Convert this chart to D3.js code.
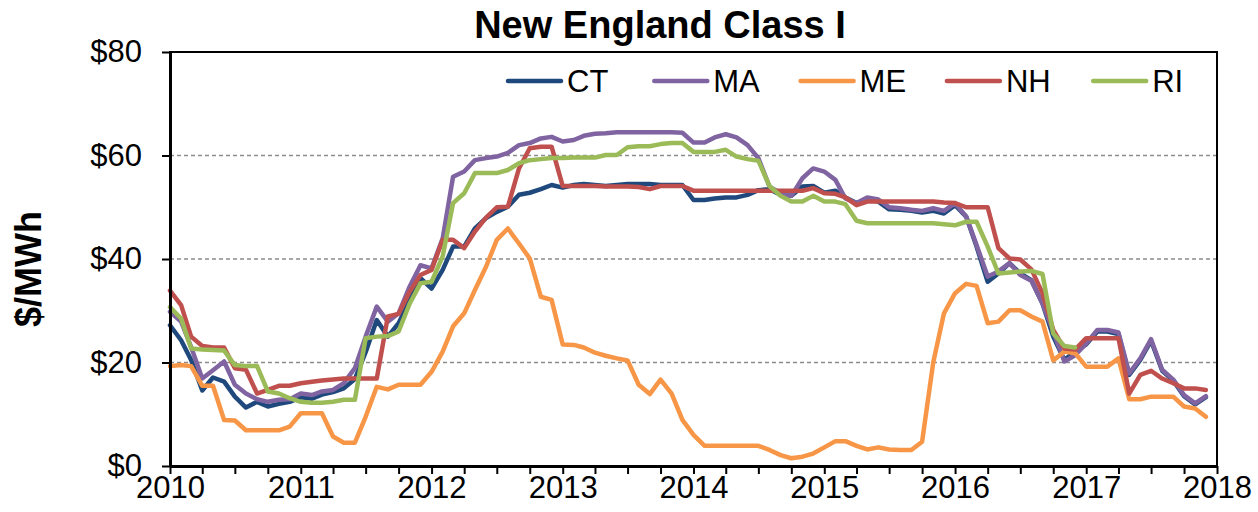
<!DOCTYPE html>
<html lang="en">
<head>
<meta charset="UTF-8">
<title>New England Class I</title>
<script src="https://d3js.org/d3.v7.min.js"></script>
<style>
    *{padding:0; margin:0; box-sizing:border-box;}
    body{background:#fff;}
    text{font-family:Arial, "Liberation Sans", Helvetica, sans-serif; fill:#000;}
    .grid line{stroke:#8c8c8c; stroke-dasharray:4,3; stroke-width:1.3;}
    .series{fill:none; stroke-width:4.5; stroke-linejoin:round; stroke-linecap:round;}
    .axis path, .axis line{stroke:#000;}
</style>
</head>
<body>
<script>
// monthly REC prices, Jan 2010 onwards ($/MWh)
const states = ['CT', 'MA', 'ME', 'NH', 'RI'];
const colors = ['#1F497D', '#8064A2', '#F79646', '#C0504D', '#9BBB59'];

const ct = [27.2, 24.3, 20.5, 14.6, 17.1, 16.3, 13.4, 11.3, 12.4, 11.5, 12.0, 12.4,
            13.3, 13.0, 13.8, 14.3, 15.0, 16.8, 22.0, 28.2, 25.0, 27.6, 32.0, 36.3,
            34.3, 37.9, 42.4, 42.4, 45.9, 47.9, 49.1, 50.1, 52.4, 52.8, 53.5, 54.3,
            53.8, 54.3, 54.5, 54.3, 54.1, 54.3, 54.5, 54.5, 54.5, 54.3, 54.3, 54.3,
            51.4, 51.4, 51.7, 51.9, 51.9, 52.4, 53.3, 53.5, 52.4, 52.2, 54.0, 54.1,
            52.8, 53.2, 51.9, 50.8, 51.5, 51.1, 49.6, 49.5, 49.3, 49.0, 49.3, 48.8,
            50.4, 48.2, 42.4, 35.6, 37.2, 39.2, 37.2, 35.9, 31.4, 25.0, 20.5, 22.1,
            23.5, 26.0, 26.0, 25.5, 17.6, 20.5, 24.2, 18.4, 16.5, 13.5, 11.9, 13.3];

const ma = [29.8, 27.9, 23.0, 16.9, 18.5, 20.2, 15.7, 14.0, 12.9, 12.4, 12.8, 12.9,
            14.0, 13.7, 14.4, 14.7, 16.0, 18.9, 25.0, 30.8, 27.9, 29.5, 34.7, 38.8,
            38.2, 44.0, 55.9, 56.9, 59.1, 59.5, 59.8, 60.5, 62.0, 62.4, 63.3, 63.6,
            62.7, 63.0, 63.8, 64.2, 64.3, 64.5, 64.5, 64.5, 64.5, 64.5, 64.5, 64.4,
            62.5, 62.5, 63.5, 64.1, 63.5, 62.0, 59.5, 54.0, 52.7, 52.2, 55.6, 57.5,
            56.9, 55.3, 51.7, 50.8, 51.9, 51.5, 50.0, 49.8, 49.5, 49.3, 49.8, 49.3,
            50.8, 48.2, 42.7, 36.6, 37.6, 39.2, 36.9, 35.8, 31.4, 26.0, 20.2, 21.4,
            23.7, 26.3, 26.3, 25.8, 17.9, 20.8, 24.5, 18.6, 16.7, 13.7, 12.1, 13.5];

const me = [19.3, 19.5, 19.3, 15.5, 15.5, 8.9, 8.8, 6.9, 6.9, 6.9, 6.9, 7.6,
            10.2, 10.2, 10.2, 5.7, 4.5, 4.5, 9.5, 15.3, 14.8, 15.7, 15.7, 15.7,
            18.2, 22.1, 27.0, 29.5, 34.0, 38.5, 43.7, 45.9, 43.0, 40.1, 32.7, 32.1,
            23.5, 23.4, 22.9, 21.9, 21.3, 20.8, 20.4, 15.7, 13.9, 16.7, 14.0, 8.9,
            6.0, 3.9, 3.9, 3.9, 3.9, 3.9, 3.9, 3.1, 2.1, 1.5, 1.8, 2.4,
            3.6, 4.8, 4.8, 3.9, 3.2, 3.6, 3.2, 3.1, 3.1, 4.7, 20.0, 29.5,
            33.4, 35.2, 34.8, 27.6, 27.9, 30.1, 30.1, 28.9, 27.9, 20.4, 22.1, 21.8,
            19.2, 19.2, 19.2, 20.8, 12.9, 12.9, 13.4, 13.4, 13.4, 11.5, 11.1, 9.5];

const nh = [33.9, 31.1, 25.0, 23.2, 22.9, 22.9, 18.9, 18.6, 14.0, 14.7, 15.5, 15.5,
            16.0, 16.3, 16.5, 16.7, 16.9, 16.9, 16.9, 16.9, 28.9, 29.4, 33.7, 36.9,
            37.9, 43.7, 43.7, 42.1, 45.3, 48.0, 50.0, 50.1, 57.5, 61.4, 61.7, 61.7,
            54.1, 54.1, 54.1, 54.1, 54.0, 54.0, 54.0, 53.9, 53.5, 54.1, 54.1, 54.1,
            53.2, 53.2, 53.2, 53.2, 53.2, 53.2, 53.2, 53.2, 53.2, 53.2, 53.2, 53.7,
            52.7, 52.6, 51.9, 50.4, 51.1, 51.1, 51.1, 51.1, 51.1, 51.1, 51.1, 50.9,
            50.8, 50.0, 50.0, 50.0, 42.1, 40.1, 39.9, 38.0, 33.4, 26.3, 22.7, 22.5,
            24.7, 24.7, 24.7, 24.7, 14.0, 17.6, 18.4, 16.9, 16.0, 15.0, 15.0, 14.7];

// RI stops at Dec 2016
const ri = [30.7, 28.5, 22.7, 22.5, 22.4, 22.3, 19.5, 19.3, 19.3, 14.4, 14.0, 13.1,
            12.4, 12.2, 12.2, 12.4, 12.8, 12.8, 24.7, 25.0, 25.1, 26.0, 31.4, 35.3,
            35.6, 40.5, 50.8, 52.7, 56.6, 56.6, 56.6, 57.2, 58.5, 59.1, 59.3, 59.5,
            59.5, 59.6, 59.6, 59.6, 60.1, 60.1, 61.6, 61.8, 61.8, 62.2, 62.4, 62.4,
            60.7, 60.7, 60.7, 61.1, 59.8, 59.3, 59.0, 54.1, 52.2, 51.1, 51.1, 52.2,
            51.1, 51.1, 50.6, 47.4, 46.9, 46.9, 46.9, 46.9, 46.9, 46.9, 46.9, 46.7,
            46.5, 47.2, 47.2, 42.4, 37.2, 37.4, 37.6, 37.7, 37.1, 25.6, 23.2, 22.9];

const yTicks = [0, 20, 40, 60, 80];
const yearTicks = [2010, 2011, 2012, 2013, 2014, 2015, 2016, 2017, 2018];

const seriesValues = [ct, ma, me, nh, ri];

const width = 1258, height = 512;
const margin = {top: 52, right: 41, bottom: 46, left: 170};

const svg = d3.select('body').append('svg')
    .attr('width', width).attr('height', height);

const start = new Date(Date.UTC(yearTicks[0], 0, 1));
const x = d3.scaleUtc()
    .domain([start, new Date(Date.UTC(yearTicks[yearTicks.length - 1], 0, 1))])
    .range([margin.left, width - margin.right]);
const y = d3.scaleLinear()
    .domain([0, 80])
    .range([height - margin.bottom, margin.top]);

// dashed gridlines
svg.append('g').attr('class', 'grid')
    .selectAll('line')
    .data(yTicks.filter(d => d > 0 && d < 80))
    .enter().append('line')
    .attr('x1', margin.left).attr('x2', width - margin.right)
    .attr('y1', d => y(d)).attr('y2', d => y(d));

// plot frame
svg.append('rect')
    .attr('x', margin.left).attr('y', margin.top)
    .attr('width', width - margin.left - margin.right)
    .attr('height', height - margin.top - margin.bottom)
    .attr('fill', 'none').attr('stroke', '#000').attr('stroke-width', 2);

// lines, drawn in legend order
const line = d3.line()
    .x((d, i) => x(d3.utcMonth.offset(start, i)))
    .y(d => y(d));

svg.append('g').selectAll('path')
    .data(seriesValues)
    .enter().append('path')
    .attr('class', 'series')
    .attr('stroke', (d, i) => colors[i])
    .attr('d', d => line(d));

// y axis
const yAxis = svg.append('g').attr('class', 'axis')
    .attr('transform', 'translate(' + margin.left + ',0)')
    .call(d3.axisLeft(y).tickValues(yTicks).tickFormat(d => '$' + d)
        .tickSize(8).tickPadding(20).tickSizeOuter(0));
yAxis.select('.domain').attr('stroke-width', 3);
yAxis.selectAll('.tick line').attr('stroke-width', 2);
yAxis.selectAll('text').attr('font-size', 31).attr('font-family', 'Arial, "Liberation Sans", sans-serif');

// x axis, quarterly ticks with year labels
const xAxis = svg.append('g').attr('class', 'axis')
    .attr('transform', 'translate(0,' + (height - margin.bottom) + ')')
    .call(d3.axisBottom(x).ticks(d3.utcMonth.every(3))
        .tickFormat(d => d.getUTCMonth() === 0 ? d.getUTCFullYear() : '')
        .tickSize(8).tickPadding(2).tickSizeOuter(0));
xAxis.select('.domain').attr('stroke-width', 3);
xAxis.selectAll('.tick line').attr('stroke-width', 2);
xAxis.selectAll('text').attr('font-size', 31).attr('font-family', 'Arial, "Liberation Sans", sans-serif');

// title
svg.append('text')
    .attr('x', 660).attr('y', 38)
    .attr('text-anchor', 'middle')
    .attr('font-size', 38).attr('font-weight', 'bold')
    .text('New England Class I');

// y axis title
svg.append('text')
    .attr('transform', 'translate(41,' + ((margin.top + height - margin.bottom) / 2 + 10) + ') rotate(-90)')
    .attr('text-anchor', 'middle')
    .attr('font-size', 36).attr('font-weight', 'bold')
    .text('$/MWh');

// legend
const legend = svg.append('g').selectAll('g')
    .data(states)
    .enter().append('g')
    .attr('transform', (d, i) => 'translate(' + (508 + i * 146.3) + ',81)');
legend.append('line')
    .attr('x1', 0).attr('x2', 53)
    .attr('stroke', (d, i) => colors[i])
    .attr('stroke-width', 4.5).attr('stroke-linecap', 'round');
legend.append('text')
    .attr('x', 59).attr('y', 11)
    .attr('font-size', 31)
    .text(d => d);
</script>
</body>
</html>
